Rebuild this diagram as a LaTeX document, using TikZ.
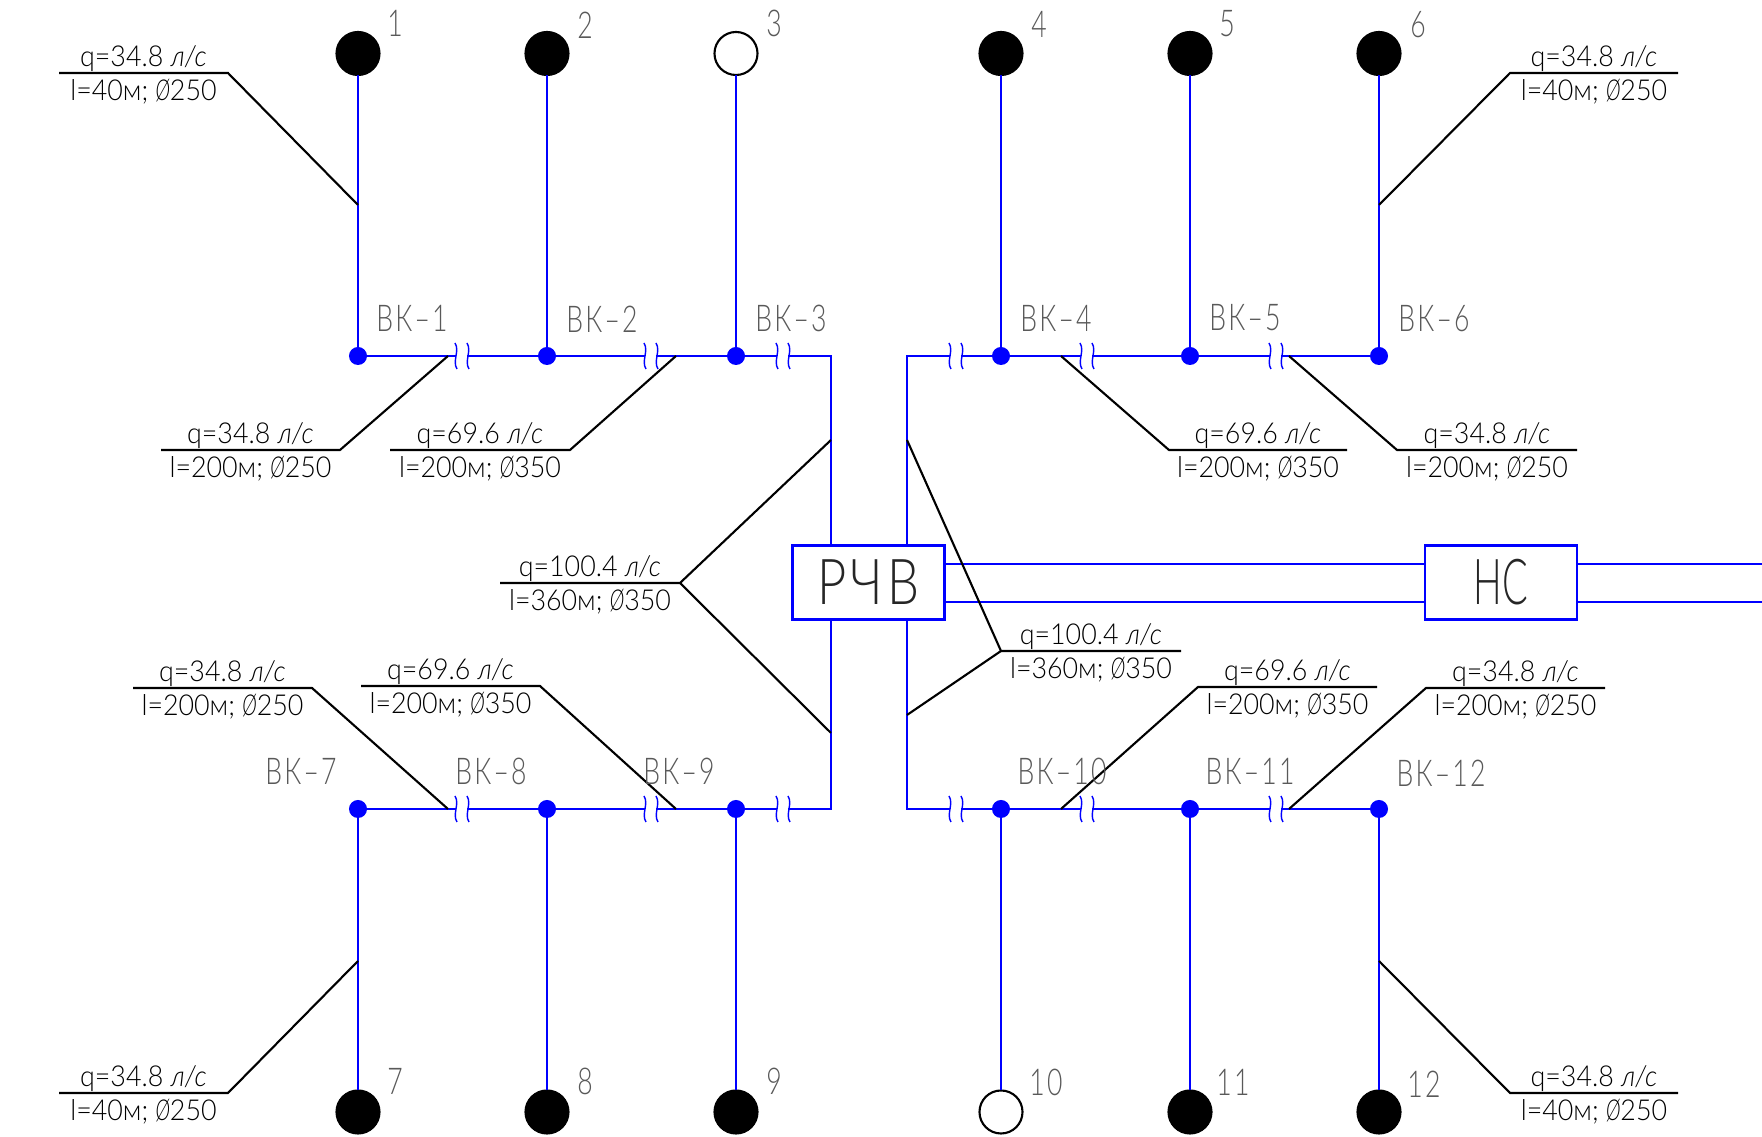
\documentclass[tikz,border=0pt]{standalone}
\usepackage{fontspec}
\setmainfont[FakeStretch=0.93]{Lato Light}
\newfontfamily\tagfont[FakeStretch=0.72,LetterSpace=6]{Lato Light}
\newfontfamily\tankfont[FakeStretch=0.6]{Lato Light}
\newfontfamily\tankwidefont[FakeStretch=0.8,LetterSpace=6]{Lato Light}
\newfontfamily\diafont[FakeStretch=0.68]{Lato Light}
\newcommand{\dia}{{\diafont\itshape Ø}}
\newcommand{\lps}{\textit{л/с}}
\newcommand{\pipegap}[2]{%
  \fill[white] (#1-6,#2-3) rectangle (#1+5,#2+3);
  \draw[gapmark] (#1-7,#2-13) .. controls (#1-2,#2-5) and (#1-10,#2+5) .. (#1-5,#2+13);
  \draw[gapmark] (#1+5,#2-13) .. controls (#1+10,#2-5) and (#1+2,#2+5) .. (#1+7,#2+13);}
\tikzset{
  pipe/.style={blue,line width=0.84pt},
  leader/.style={black,line width=0.6pt},
  gapmark/.style={blue,line width=0.4pt},
  well/.style={circle,draw=black,fill=black,line width=0.6pt,minimum size=0.43cm,inner sep=0pt,outer sep=0pt},
  wellopen/.style={well,fill=white},
  junction/.style={circle,fill=blue,minimum size=0.18cm,inner sep=0pt,outer sep=0pt},
  tank/.style={draw=blue,line width=0.7pt,fill=white,minimum width=1.52cm,minimum height=0.74cm,inner sep=0pt,outer sep=0pt,font=\tankfont\fontsize{18}{18}\selectfont,text=black!85},
  tag/.style={inner sep=0pt,font=\tagfont\fontsize{10.5}{12}\selectfont,text=black!65},
  flow/.style={inner sep=0pt,font=\fontsize{8.2}{10}\selectfont,anchor=base,text=black}
}
\begin{document}
\begin{tikzpicture}[x=0.01cm,y=-0.01cm]
\useasboundingbox (0,0) rectangle (1762,1137);
\fill[white] (0,0) rectangle (1762,1137);
\node[tank,font=\tankwidefont\fontsize{18}{18}\selectfont] (rcv) at (868.5,582.5) {РЧВ};
\node[tank] (ns) at (1501,582.5) {НС};
\node[well] (w1) at (358,53.5) {};
\node[well] (w2) at (547,53.5) {};
\node[wellopen] (w3) at (736,53.5) {};
\node[well] (w4) at (1001,53.5) {};
\node[well] (w5) at (1190,53.5) {};
\node[well] (w6) at (1379,53.5) {};
\node[well] (w7) at (358,1112) {};
\node[well] (w8) at (547,1112) {};
\node[well] (w9) at (736,1112) {};
\node[wellopen] (w10) at (1001,1112) {};
\node[well] (w11) at (1190,1112) {};
\node[well] (w12) at (1379,1112) {};
\node[junction] (j1) at (358,356) {};
\node[junction] (j2) at (547,356) {};
\node[junction] (j3) at (736,356) {};
\node[junction] (j4) at (1001,356) {};
\node[junction] (j5) at (1190,356) {};
\node[junction] (j6) at (1379,356) {};
\node[junction] (j7) at (358,809) {};
\node[junction] (j8) at (547,809) {};
\node[junction] (j9) at (736,809) {};
\node[junction] (j10) at (1001,809) {};
\node[junction] (j11) at (1190,809) {};
\node[junction] (j12) at (1379,809) {};
\coordinate (c1) at (831,356);
\coordinate (c2) at (907,356);
\coordinate (c3) at (831,809);
\coordinate (c4) at (907,809);
\coordinate (o1) at (1762,564);
\coordinate (o2) at (1762,602);
% risers
\draw[pipe] (w1) -- (j1);
\draw[pipe] (w2) -- (j2);
\draw[pipe] (w3) -- (j3);
\draw[pipe] (w4) -- (j4);
\draw[pipe] (w5) -- (j5);
\draw[pipe] (w6) -- (j6);
\draw[pipe] (w7) -- (j7);
\draw[pipe] (w8) -- (j8);
\draw[pipe] (w9) -- (j9);
\draw[pipe] (w10) -- (j10);
\draw[pipe] (w11) -- (j11);
\draw[pipe] (w12) -- (j12);
% mains
\draw[pipe] (j1) -- (j2) -- (j3) -- (c1) -- (rcv.north -| c1);
\draw[pipe] (j6) -- (j5) -- (j4) -- (c2) -- (rcv.north -| c2);
\draw[pipe] (j7) -- (j8) -- (j9) -- (c3) -- (rcv.south -| c3);
\draw[pipe] (j12) -- (j11) -- (j10) -- (c4) -- (rcv.south -| c4);
\draw[pipe] (rcv.east |- o1) -- (ns.west |- o1);
\draw[pipe] (rcv.east |- o2) -- (ns.west |- o2);
\draw[pipe] (ns.east |- o1) -- (o1);
\draw[pipe] (ns.east |- o2) -- (o2);
% breaks
\pipegap{462}{356}
\pipegap{651}{356}
\pipegap{783}{356}
\pipegap{956}{356}
\pipegap{1087}{356}
\pipegap{1276}{356}
\pipegap{462}{809}
\pipegap{651}{809}
\pipegap{783}{809}
\pipegap{956}{809}
\pipegap{1087}{809}
\pipegap{1276}{809}
% leaders
\coordinate (a1) at (358,205);
\coordinate (a2) at (448,356);
\coordinate (a3) at (676,356);
\coordinate (a4) at (1061,356);
\coordinate (a5) at (1289,356);
\coordinate (a6) at (1379,205);
\coordinate (a7) at (831,440);
\coordinate (a8) at (831,733);
\coordinate (a9) at (907,440);
\coordinate (a10) at (907,715);
\coordinate (a11) at (448,809);
\coordinate (a12) at (676,809);
\coordinate (a13) at (358,961);
\coordinate (a14) at (1061,809);
\coordinate (a15) at (1289,809);
\coordinate (a16) at (1379,961);
\draw[leader] (59,73) coordinate (s1) -- (228,73) coordinate (k1) -- (a1);
\draw[leader] (161,450) coordinate (s2) -- (340,450) coordinate (k2) -- (a2);
\draw[leader] (390,450) coordinate (s3) -- (570,450) coordinate (k3) -- (a3);
\draw[leader] (1347,450) coordinate (s4) -- (1169,450) coordinate (k4) -- (a4);
\draw[leader] (1577,450) coordinate (s5) -- (1397,450) coordinate (k5) -- (a5);
\draw[leader] (1678,73) coordinate (s6) -- (1510,73) coordinate (k6) -- (a6);
\draw[leader] (500,583) coordinate (s7) -- (680,583) coordinate (k7) -- (a7);
\draw[leader] (k7) -- (a8);
\draw[leader] (1181,651) coordinate (s8) -- (1001,651) coordinate (k8) -- (a9);
\draw[leader] (k8) -- (a10);
\draw[leader] (133,688) coordinate (s9) -- (312,688) coordinate (k9) -- (a11);
\draw[leader] (361,686) coordinate (s10) -- (540,686) coordinate (k10) -- (a12);
\draw[leader] (59,1093) coordinate (s11) -- (228,1093) coordinate (k11) -- (a13);
\draw[leader] (1377,687) coordinate (s12) -- (1198,687) coordinate (k12) -- (a14);
\draw[leader] (1605,688) coordinate (s13) -- (1426,688) coordinate (k13) -- (a15);
\draw[leader] (1678,1093) coordinate (s14) -- (1510,1093) coordinate (k14) -- (a16);
% leader texts
\node[flow] (q1) at (143.5,67) {q=34.8 \lps};
\node[flow] (d1) at (143.5,101) {l=40м; \dia250};
\node[flow] (q2) at (250.5,444) {q=34.8 \lps};
\node[flow] (d2) at (250.5,478) {l=200м; \dia250};
\node[flow] (q3) at (480,444) {q=69.6 \lps};
\node[flow] (d3) at (480,478) {l=200м; \dia350};
\node[flow] (q4) at (1258,444) {q=69.6 \lps};
\node[flow] (d4) at (1258,478) {l=200м; \dia350};
\node[flow] (q5) at (1487,444) {q=34.8 \lps};
\node[flow] (d5) at (1487,478) {l=200м; \dia250};
\node[flow] (q6) at (1594,67) {q=34.8 \lps};
\node[flow] (d6) at (1594,101) {l=40м; \dia250};
\node[flow] (q7) at (590,577) {q=100.4 \lps};
\node[flow] (d7) at (590,611) {l=360м; \dia350};
\node[flow] (q8) at (1091,645) {q=100.4 \lps};
\node[flow] (d8) at (1091,679) {l=360м; \dia350};
\node[flow] (q9) at (222.5,682) {q=34.8 \lps};
\node[flow] (d9) at (222.5,716) {l=200м; \dia250};
\node[flow] (q10) at (450.5,680) {q=69.6 \lps};
\node[flow] (d10) at (450.5,714) {l=200м; \dia350};
\node[flow] (q11) at (143.5,1087) {q=34.8 \lps};
\node[flow] (d11) at (143.5,1121) {l=40м; \dia250};
\node[flow] (q12) at (1287.5,681) {q=69.6 \lps};
\node[flow] (d12) at (1287.5,715) {l=200м; \dia350};
\node[flow] (q13) at (1515.5,682) {q=34.8 \lps};
\node[flow] (d13) at (1515.5,716) {l=200м; \dia250};
\node[flow] (q14) at (1594,1087) {q=34.8 \lps};
\node[flow] (d14) at (1594,1121) {l=40м; \dia250};
% well numbers
\node[tag] (n1) at (395,23) {1};
\node[tag] (n2) at (585,25) {2};
\node[tag] (n3) at (774,23) {3};
\node[tag] (n4) at (1039,24) {4};
\node[tag] (n5) at (1227,24) {5};
\node[tag] (n6) at (1418,25) {6};
\node[tag] (n7) at (395,1081) {7};
\node[tag] (n8) at (585,1081) {8};
\node[tag] (n9) at (774,1081) {9};
\node[tag] (n10) at (1046,1082) {10};
\node[tag] (n11) at (1233,1082) {11};
\node[tag] (n12) at (1424,1084) {12};
% junction tags
\node[tag] (t1) at (412,318) {ВК–1};
\node[tag] (t2) at (602,319) {ВК–2};
\node[tag] (t3) at (791,318) {ВК–3};
\node[tag] (t4) at (1056,318) {ВК–4};
\node[tag] (t5) at (1245,318) {ВК–5};
\node[tag] (t6) at (1434,319) {ВК–6};
\node[tag] (t7) at (301,771) {ВК–7};
\node[tag] (t8) at (491,771) {ВК–8};
\node[tag] (t9) at (679,771) {ВК–9};
\node[tag] (t10) at (1062,771) {ВК–10};
\node[tag] (t11) at (1250,771) {ВК–11};
\node[tag] (t12) at (1441,773) {ВК–12};
\end{tikzpicture}
\end{document}
